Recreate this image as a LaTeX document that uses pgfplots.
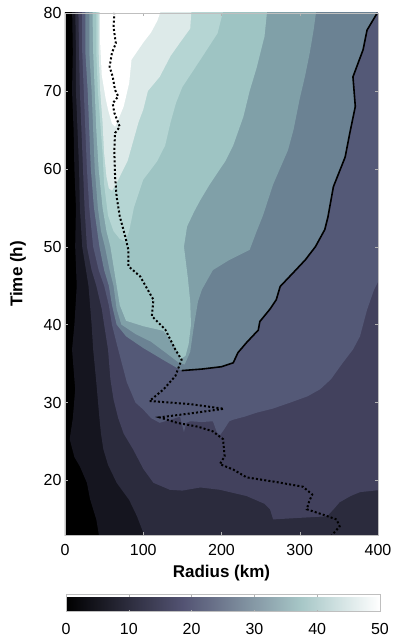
\documentclass[border=0pt]{standalone}
\usepackage{fontspec}
\setmainfont{Liberation Sans}
\usepackage{pgfplots}
\pgfplotsset{compat=1.18}
\definecolor{b5}{RGB}{21,21,31}
\definecolor{b10}{RGB}{43,43,61}
\definecolor{b15}{RGB}{66,65,93}
\definecolor{b20}{RGB}{84,89,119}
\definecolor{b25}{RGB}{107,130,147}
\definecolor{b30}{RGB}{128,160,168}
\definecolor{b35}{RGB}{158,196,195}
\definecolor{b40}{RGB}{181,213,211}
\definecolor{b45}{RGB}{221,234,233}
\begin{document}
\begin{tikzpicture}
\useasboundingbox (-65pt,-102pt) rectangle (329pt,535pt);
\begin{axis}[
 at={(0,0)}, anchor=south west,
 scale only axis, width=313pt, height=522pt,
 xmin=0, xmax=400, ymin=13, ymax=80,
 xtick={0,100,200,300,400}, ytick={20,30,40,50,60,70,80},
 tick align=inside, major tick length=3pt,
 tick style={gray!60, line width=0.4pt},
 axis line style={gray!50, line width=0.4pt},
 axis on top,
 ticklabel style={font=\fontsize{16}{18}\selectfont},
 xticklabel style={yshift=-6pt},
 /pgf/number format/assume math mode=true,
 xlabel={Radius (km)}, ylabel={Time (h)},
 label style={font=\fontsize{17}{19}\selectfont\bfseries},
 xlabel style={at={(axis description cs:0.5,-0.0728)}, anchor=center},
 ylabel style={at={(axis description cs:-0.150,0.5)}, anchor=center},
 colormap={bone}{rgb(0pt)=(0,0,0) rgb(3pt)=(0.328,0.328,0.453) rgb(6pt)=(0.656,0.781,0.781) rgb(8pt)=(1,1,1)},
 point meta min=0, point meta max=50,
 colorbar horizontal,
 colorbar style={at={(parent axis.south west)}, anchor=north west, yshift=-51pt, xshift=1pt,
   scale only axis, width=314pt, height=17pt,
   xtick={0,10,20,30,40,50}, xtick align=inside, major tick length=2pt,
   xtick style={gray!60, line width=0.4pt},
   axis line style={gray!50, line width=0.4pt},
   ticklabel style={font=\fontsize{16}{18}\selectfont},
   xticklabel style={yshift=-8.5pt},
   /pgf/number format/assume math mode=true},
]
% background band 0-5
\addplot[fill=black, draw=none] coordinates {(-5,12) (405,12) (405,81) (-5,81)};
% >=5
\addplot[fill=b5, draw=none] coordinates {(45,12) (40,15) (32,17.6) (28,19.7) (19,21.8) (12,23) (6,25.3) (10,28) (13,31.7) (9,36.8) (12,40) (15,45) (13,50) (14,55) (12,60) (11,65) (9,70) (10,75) (9,81) (405,81) (405,12)};
% >=10
\addplot[fill=b10, draw=none] coordinates {(100,12) (100,13.3) (92,15.4) (82,17.5) (66,19.7) (55,22) (49,24) (46,26) (44,28) (40,32.6) (36,36.8) (34,40) (30,45) (22,50) (19,55) (18,60) (16,65) (14,70) (14,75) (13,81) (405,81) (405,12)};
% >=15
\addplot[fill=b15, draw=none] coordinates {(17,81) (18,75) (19,70) (21,65) (23,60) (25,55) (28,50) (34,47) (40,45) (47,42) (50,40) (55,36.8) (58,33) (62,30.4) (68,28) (75,26) (87,24) (100,21.5) (113,19.7) (134,18.8) (150,18.7) (173,19.1) (198,18.8) (232,18) (255,17) (262,16.3) (266,15) (300,15.2) (335,15.4) (345,16.5) (351,17.2) (365,18) (377,18.5) (405,18.8) (405,81)};
% >=20
\addplot[fill=b20, draw=none] coordinates {(22,81) (22,75) (24,70) (26,65) (28,60) (31,55) (36,50) (43,47) (50,45) (56,42.5) (60,40) (68,36.8) (79,32.6) (90,30) (100,29.1) (110,28) (121,27.4) (135,27.8) (147,28.2) (150,27) (152,26.2) (155,27.4) (160,27.6) (175,27.5) (189,27.6) (194,26.2) (198,25.8) (203,26.5) (210,27.6) (215,27.8) (230,28.2) (245,28.7) (265,29.2) (288,30) (310,30.8) (326,31.7) (340,33) (355,35.1) (368,36.8) (377,38.5) (386,41.9) (395,44.5) (405,46.5) (405,81)};
% >=25
\addplot[fill=b25, draw=none] coordinates {(26,81) (26,75) (29,70) (31,65) (33,60) (37,55) (44,50) (50,47) (56,45) (60,42.5) (66,40) (78,38.5) (100,37) (125,35.5) (149,34.1) (175,34.3) (200,34.6) (215,35.1) (221,36.4) (232,37.7) (247,39.3) (249,40.4) (262,42) (270,43.2) (275,44.9) (292,46.7) (307,48.3) (320,50) (332,52.2) (336,53.8) (343,57.7) (358,61.5) (364,64.6) (371,68) (368,71.8) (381,75.3) (386,77.8) (399,80) (400,81)};
% >=30
\addplot[fill=b30, draw=none] coordinates {(31,81) (31,75) (34,70) (36,65) (38,60) (42,55) (46,52) (51,50) (57,47) (62,45) (66,42) (72,40) (90,38.8) (110,37.8) (130,36.3) (147,35) (153,34.9) (160,36.5) (165,40) (170,43) (175,44.5) (189,47) (210,48.3) (236,49.6) (245,52) (253,54) (266,58) (285,62.4) (292,65) (300,69) (307,72) (313,75) (318,78) (322,81)};
% >=35
\addplot[fill=b35, draw=none] coordinates {(35,81) (36,75) (38,70) (40,65) (43,60) (48,55) (53,52) (58,50) (62,47.5) (66,45) (70,42.5) (78,40.5) (100,39.8) (126,39.2) (140,37.2) (148,35.6) (154,36) (158,37.5) (161,40) (160,43) (157,46) (152,50) (156,52.6) (165,54.5) (173,56) (185,58) (205,61) (215,63) (228,66.7) (236,70) (245,73) (255,77) (259,81)};
% >=40
\addplot[fill=b40, draw=none] coordinates {(40,81) (40,75) (42,70) (45,66) (48,62) (50,58) (55,54) (62,52) (70,51) (77,50.7) (82,52) (88,55) (100,58.6) (118,61) (128,63) (135,66) (142,68.5) (150,70.5) (173,74) (195,77.4) (204,81)};
% >=45
\addplot[fill=b45, draw=none] coordinates {(43,81) (43,75) (45,70) (48,66) (50,62) (53,59) (56,57.5) (60,57.2) (65,58) (70,59) (80,61) (87,63.5) (94,66) (100,67.6) (106,70) (121,71.8) (135,74.5) (147,76.2) (160,78) (162,81)};
% >=50
\addplot[fill=white, draw=none] coordinates {(45,81) (45,76) (47,72) (52,69) (55,67.6) (60,65.8) (64,65.4) (68,66.3) (75,68) (79,69.7) (82,71) (85,74) (100,76.2) (110,77.5) (118,79) (125,81)};
% solid contour line
\addplot[black, line width=1.6pt] coordinates {(149,34.1) (175,34.3) (200,34.6) (215,35.1) (221,36.4) (232,37.7) (247,39.3) (249,40.4) (262,42) (270,43.2) (275,44.9) (292,46.7) (307,48.3) (320,50) (332,52.2) (336,53.8) (343,57.7) (358,61.5) (364,64.6) (371,68) (368,71.8) (381,75.3) (386,77.8) (399,80)};
% dotted line
\addplot[black, line width=2pt, dash pattern=on 2pt off 2.2pt] coordinates {(340,12.8) (343,13.2) (351,14.1) (347,15) (330,15.6) (309,16.3) (312,17.3) (316,18.2) (304,19.2) (270,19.8) (232,20.4) (215,21.4) (198,22.1) (204,23.1) (202,25.3) (189,26.3) (170,26.9) (143,27.4) (121,28.1) (160,28.6) (203,29.2) (160,29.8) (108,30.2) (126,31.7) (141,33.4) (149,35.5) (141,36.8) (128,39.4) (111,41.1) (113,43.2) (96,46.2) (81,47.5) (81,49.6) (77,51.3) (70,53.9) (66,56.4) (64,59) (63,62.4) (64,64.6) (70,65.4) (63,67.2) (61,68.4) (68,69.3) (64,70.1) (61,71.8) (57,73.1) (60,74.9) (65,76.1) (62,78.2) (63,80)};
\end{axis}
\end{tikzpicture}
\end{document}
